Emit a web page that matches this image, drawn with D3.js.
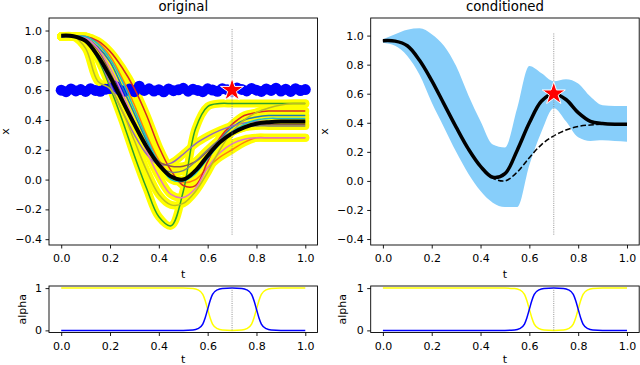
<!DOCTYPE html>
<html>
<head>
<meta charset="utf-8">
<script src="https://cdn.jsdelivr.net/npm/d3@7"></script>
<style>
  body { margin: 0; background: #fff; }
  text { font-family: "DejaVu Sans", sans-serif; fill: #000; }
</style>
</head>
<body>
<div id="chart"></div>
<script>
// time grid of the demonstrations
const tGrid = [0, 0.05, 0.1, 0.15, 0.2, 0.25, 0.3, 0.35, 0.4, 0.45, 0.5, 0.55, 0.6, 0.65, 0.7, 0.75, 0.8, 0.85, 0.9, 0.95, 1.0];

// demonstrations (tab10 order)
const demoBlue   = [0.96, 0.96, 0.95, 0.89, 0.79, 0.62, 0.44, 0.26, 0.11, 0.02, 0.00, 0.06, 0.17, 0.27, 0.35, 0.40, 0.42, 0.43, 0.43, 0.43, 0.43];
const demoOrange = [0.96, 0.96, 0.96, 0.92, 0.83, 0.68, 0.50, 0.30, 0.13, 0.02, -0.02, 0.00, 0.08, 0.15, 0.20, 0.25, 0.28, 0.28, 0.28, 0.28, 0.28];
const demoGreen  = [0.96, 0.96, 0.93, 0.81, 0.62, 0.40, 0.16, -0.06, -0.25, -0.31, -0.08, 0.34, 0.49, 0.51, 0.51, 0.51, 0.51, 0.51, 0.51, 0.51, 0.51];
const demoRed    = [0.96, 0.96, 0.96, 0.93, 0.86, 0.75, 0.61, 0.43, 0.22, 0.06, -0.04, -0.04, 0.12, 0.28, 0.37, 0.43, 0.45, 0.46, 0.46, 0.46, 0.46];
const demoPurple = [0.96, 0.96, 0.93, 0.83, 0.64, 0.46, 0.30, 0.17, 0.10, 0.11, 0.17, 0.24, 0.29, 0.33, 0.36, 0.38, 0.39, 0.39, 0.39, 0.39, 0.39];
const demoBrown  = [0.96, 0.96, 0.95, 0.87, 0.72, 0.55, 0.38, 0.22, 0.12, 0.09, 0.09, 0.12, 0.19, 0.26, 0.32, 0.35, 0.37, 0.37, 0.37, 0.37, 0.37];
const demoPink   = [0.96, 0.96, 0.95, 0.88, 0.75, 0.58, 0.39, 0.19, 0.02, -0.10, -0.12, -0.06, 0.08, 0.18, 0.24, 0.27, 0.28, 0.28, 0.28, 0.28, 0.28];
const demoGray   = [0.96, 0.96, 0.93, 0.82, 0.68, 0.54, 0.38, 0.22, 0.09, 0.05, 0.06, 0.12, 0.20, 0.27, 0.32, 0.35, 0.36, 0.36, 0.36, 0.36, 0.36];
const demoOlive  = [0.96, 0.96, 0.88, 0.66, 0.61, 0.46, 0.26, 0.06, -0.10, -0.17, -0.16, -0.08, 0.05, 0.20, 0.32, 0.40, 0.45, 0.48, 0.50, 0.51, 0.51];
const demoCyan   = [0.96, 0.96, 0.96, 0.91, 0.81, 0.66, 0.47, 0.28, 0.11, 0.00, -0.01, 0.04, 0.14, 0.24, 0.32, 0.37, 0.40, 0.41, 0.41, 0.41, 0.41];
const demos = [demoBlue, demoOrange, demoGreen, demoRed, demoPurple, demoBrown, demoPink, demoGray, demoOlive, demoCyan];

// prior mean and conditioned distribution
const priorMean = [0.965, 0.962, 0.93, 0.83, 0.69, 0.53, 0.37, 0.22, 0.10, 0.02, 0.00, 0.06, 0.16, 0.25, 0.31, 0.35, 0.375, 0.385, 0.39, 0.39, 0.39];
const condMean  = [0.965, 0.962, 0.93, 0.83, 0.69, 0.53, 0.37, 0.22, 0.10, 0.025, 0.05, 0.21, 0.40, 0.55, 0.60, 0.56, 0.47, 0.41, 0.395, 0.39, 0.39];
const condUpper = [0.975, 1.01, 1.04, 1.05, 1.01, 0.93, 0.79, 0.59, 0.41, 0.25, 0.23, 0.50, 0.79, 0.74, 0.685, 0.70, 0.67, 0.58, 0.52, 0.515, 0.515];
const condLower = [0.95, 0.93, 0.86, 0.73, 0.54, 0.37, 0.20, 0.05, -0.07, -0.15, -0.18, -0.18, 0.11, 0.34, 0.50, 0.41, 0.30, 0.275, 0.28, 0.275, 0.27];

// via-point observations
const viaT = d3.range(0, 1.0001, 0.02);
const viaX = [0.600, 0.590, 0.608, 0.595, 0.604, 0.591, 0.610, 0.598, 0.592, 0.606, 0.611, 0.628, 0.601, 0.593, 0.607, 0.590, 0.626,
              0.598, 0.609, 0.594, 0.603, 0.589, 0.608, 0.596, 0.602, 0.612, 0.593, 0.606, 0.598, 0.590, 0.609, 0.601, 0.592, 0.610,
              0.603, 0.594, 0.615, 0.605, 0.595, 0.611, 0.600, 0.591, 0.608, 0.598, 0.613, 0.594, 0.606, 0.591, 0.610, 0.597, 0.604];
const viaPoint = {t: 0.7, x: 0.6};
const markerSpan = [-0.37, 1.015];

// activation weights
const alphaT    = [0, 0.5, 0.54, 0.56, 0.58, 0.59, 0.6, 0.61, 0.62, 0.64, 0.66, 0.7, 0.74, 0.76, 0.78, 0.79, 0.8, 0.81, 0.82, 0.84, 0.86, 0.9, 1.0];
const alphaDemo = [1, 1, 0.99, 0.96, 0.85, 0.7, 0.5, 0.3, 0.15, 0.04, 0.01, 0, 0.01, 0.04, 0.15, 0.3, 0.5, 0.7, 0.85, 0.96, 0.99, 1, 1];
const alphaVia  = [0, 0, 0.01, 0.04, 0.15, 0.3, 0.5, 0.7, 0.85, 0.96, 0.99, 1, 0.99, 0.96, 0.85, 0.7, 0.5, 0.3, 0.15, 0.04, 0.01, 0, 0];

// ticks
const xTicks = [0, 0.2, 0.4, 0.6, 0.8, 1.0];
const yTicks = [-0.4, -0.2, 0, 0.2, 0.4, 0.6, 0.8, 1.0];
const alphaTicks = [0, 1];

const width = 640, height = 365;
const tab10 = d3.schemeCategory10;

var svg = d3.select('#chart')
  .append('svg')
  .attr('width', width)
  .attr('height', height);

// panel boxes
const left = {x0: 49, x1: 317.5};
const right = {x0: 370.7, x1: 639.2};
const mainBox = {y0: 18, y1: 245};
const alphaBox = {y0: 286, y1: 332.5};

function makeAxes(xr, yb, ydom, yt, yfmt) {
  const x = d3.scaleLinear().domain([-0.05, 1.05]).range([xr.x0, xr.x1]);
  const y = d3.scaleLinear().domain(ydom).range([yb.y1, yb.y0]);
  const g = svg.append('g');

  const ax = g.append('g')
    .attr('transform', `translate(0, ${yb.y1})`)
    .call(d3.axisBottom(x).tickValues(xTicks).tickFormat(d3.format('.1f')).tickSize(3.5).tickPadding(3.5));
  ax.selectAll('.tick text').attr('dy', '0.93em');

  const ay = g.append('g')
    .attr('transform', `translate(${xr.x0}, 0)`)
    .call(d3.axisLeft(y).tickValues(yt).tickFormat(yfmt).tickSize(3.5).tickPadding(3.5));

  [ax, ay].forEach(a => {
    a.select('.domain').remove();
    a.selectAll('.tick line').attr('stroke', '#000').attr('stroke-width', 0.9);
    a.selectAll('.tick text').style('font-size', '11px').style('font-family', '"DejaVu Sans", sans-serif');
  });

  const plot = g.append('g');
  // frame on top
  g.append('rect')
    .attr('x', xr.x0).attr('y', yb.y0)
    .attr('width', xr.x1 - xr.x0).attr('height', yb.y1 - yb.y0)
    .attr('fill', 'none').attr('stroke', '#000').attr('stroke-width', 0.9);

  return {x, y, plot};
}

function vline(p, lo, hi) {
  p.plot.append('line')
    .attr('x1', p.x(viaPoint.t)).attr('x2', p.x(viaPoint.t))
    .attr('y1', p.y(lo)).attr('y2', p.y(hi))
    .attr('stroke', '#888').attr('stroke-width', 0.9)
    .attr('stroke-dasharray', '1,1.2');
}

function star(p) {
  p.plot.append('path')
    .attr('d', d3.symbol(d3.symbolStar, 165)())
    .attr('transform', `translate(${p.x(viaPoint.t)}, ${p.y(viaPoint.x)})`)
    .attr('fill', 'red')
    .attr('stroke', '#fff')
    .attr('stroke-width', 1);
}

function label(txt, x, y, size, rot) {
  const t = svg.append('text')
    .attr('text-anchor', 'middle')
    .style('font-size', size + 'px')
    .text(txt);
  if (rot) t.attr('transform', `translate(${x}, ${y}) rotate(-90)`);
  else t.attr('x', x).attr('y', y);
}

const lineOf = (p, ys, xs, curve) => d3.line()
  .x((d, i) => p.x(xs[i]))
  .y(d => p.y(d))
  .curve(curve || d3.curveCatmullRom.alpha(0.5))(ys);

// ---- original ----
const pa = makeAxes(left, mainBox, [-0.439, 1.084], yTicks, d3.format('.1f'));

demos.forEach(dm => {
  pa.plot.append('path')
    .attr('d', lineOf(pa, dm, tGrid))
    .attr('fill', 'none').attr('stroke', '#ffff00')
    .attr('stroke-width', 8).attr('stroke-linecap', 'round').attr('stroke-linejoin', 'round');
});

pa.plot.selectAll('.via')
  .data(viaX)
  .enter()
  .append('circle')
  .attr('cx', (d, i) => pa.x(viaT[i]))
  .attr('cy', d => pa.y(d))
  .attr('r', 5.5)
  .attr('fill', '#0000ff');

demos.forEach((dm, k) => {
  pa.plot.append('path')
    .attr('d', lineOf(pa, dm, tGrid))
    .attr('fill', 'none').attr('stroke', tab10[k]).attr('stroke-width', 1.5);
});

pa.plot.append('path')
  .attr('d', lineOf(pa, priorMean, tGrid))
  .attr('fill', 'none').attr('stroke', '#000').attr('stroke-width', 4);

vline(pa, markerSpan[0], markerSpan[1]);
star(pa);

// ---- conditioned ----
const pb = makeAxes(right, mainBox, [-0.441, 1.121], yTicks, d3.format('.1f'));

pb.plot.append('path')
  .attr('d', d3.area()
    .x((d, i) => pb.x(tGrid[i]))
    .y0((d, i) => pb.y(condLower[i]))
    .y1(d => pb.y(d))
    .curve(d3.curveMonotoneX)(condUpper))
  .attr('fill', 'lightskyblue');

pb.plot.append('path')
  .attr('d', lineOf(pb, priorMean, tGrid))
  .attr('fill', 'none').attr('stroke', '#000').attr('stroke-width', 1.5)
  .attr('stroke-dasharray', '5.5,2.4');

pb.plot.append('path')
  .attr('d', lineOf(pb, condMean, tGrid))
  .attr('fill', 'none').attr('stroke', '#000').attr('stroke-width', 3.5);

vline(pb, markerSpan[0], markerSpan[1]);
star(pb);

// ---- alpha panels ----
[left, right].forEach(xr => {
  const pc = makeAxes(xr, alphaBox, [-0.05, 1.05], alphaTicks, d3.format('d'));
  pc.plot.append('path')
    .attr('d', lineOf(pc, alphaDemo, alphaT, d3.curveMonotoneX))
    .attr('fill', 'none').attr('stroke', '#ffff00').attr('stroke-width', 1.5);
  pc.plot.append('path')
    .attr('d', lineOf(pc, alphaVia, alphaT, d3.curveMonotoneX))
    .attr('fill', 'none').attr('stroke', '#0000ff').attr('stroke-width', 1.5);
  vline(pc, 0, 1);
});

// titles and axis labels
label('original', (left.x0 + left.x1) / 2, 11, 13.3);
label('conditioned', (right.x0 + right.x1) / 2, 11, 13.3);
label('t', (left.x0 + left.x1) / 2, 277.5, 11);
label('t', (right.x0 + right.x1) / 2, 277.5, 11);
label('t', (left.x0 + left.x1) / 2, 363, 11);
label('t', (right.x0 + right.x1) / 2, 363, 11);
label('x', 9, (mainBox.y0 + mainBox.y1) / 2, 11, true);
label('x', 328, (mainBox.y0 + mainBox.y1) / 2, 11, true);
label('alpha', 25.7, (alphaBox.y0 + alphaBox.y1) / 2, 11, true);
label('alpha', 345.7, (alphaBox.y0 + alphaBox.y1) / 2, 11, true);
</script>
</body>
</html>
